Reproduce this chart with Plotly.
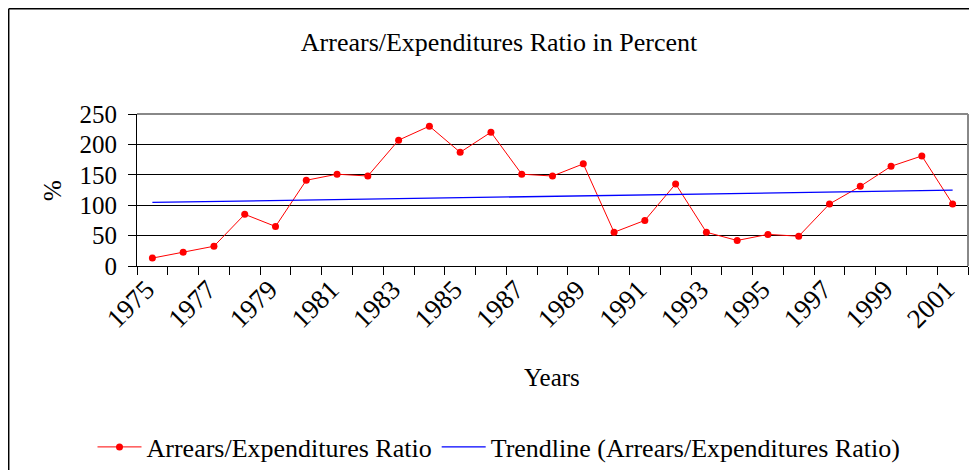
import plotly.graph_objects as go

years = list(range(1975, 2002))
ratio = [13, 22.5, 32.5, 85, 65, 141, 151, 148, 207, 230, 187, 220, 151,
         148, 168, 55.5, 75, 135, 55.5, 42, 52, 49, 102, 131, 164, 181, 102]
trend_years = [1975, 2001]
trend_values = [104.5, 124.7]
tick_years = [y for y in years if y % 2 == 1]
tick_labels = [str(y) for y in tick_years]
y_ticks = [0, 50, 100, 150, 200, 250]

FONT = "Liberation Serif"
OFF = 8  # page body margin offset
W, H = 977, 470
# screen-space plot box: x 137..968, y 114..266
L, T = 137 - OFF, 114 - OFF
R = W - (968 - OFF)
B = H - (266 - OFF)
PW, PH = W - L - R, H - T - B

def px_x(sx):
    return (sx - OFF - L) / PW

def px_y(sy):
    return (H - B - (sy - OFF)) / PH

fig = go.Figure()
fig.add_trace(go.Scatter(
    x=years, y=ratio, mode="lines+markers", name="Arrears/Expenditures Ratio",
    line=dict(color="#FF0000", width=1), marker=dict(color="#FF0000", size=7),
))
fig.add_trace(go.Scatter(
    x=trend_years, y=trend_values, mode="lines",
    name="Trendline (Arrears/Expenditures Ratio)",
    line=dict(color="#0000FF", width=1.3),
))

fig.update_layout(
    width=W, height=H,
    margin=dict(l=L, r=R, t=T, b=B, autoexpand=False),
    paper_bgcolor="white", plot_bgcolor="white",
    font=dict(family=FONT, color="black", size=24),
    title=dict(text="Arrears/Expenditures Ratio in Percent",
               x=(499 - OFF) / W, xref="container", xanchor="center",
               y=1 - (42 - OFF) / H, yref="container", yanchor="middle",
               font=dict(size=26, family=FONT, color="black")),
    showlegend=True,
    legend=dict(orientation="h", x=(499 - OFF) / W, xref="container", xanchor="center",
                y=1 - (447 - OFF) / H, yref="container", yanchor="middle",
                font=dict(size=26, family=FONT, color="black"),
                bgcolor="rgba(0,0,0,0)", itemwidth=44),
    xaxis=dict(range=[1974.5, 2001.5], tickmode="array", tickvals=tick_years,
               ticktext=tick_labels, tickangle=-45, ticks="", automargin=False,
               ticklabelshift=-6, ticklabelstandoff=-4,
               showgrid=False, zeroline=False,
               showline=True, linecolor="black", linewidth=1,
               tickfont=dict(size=27, family=FONT, color="black"),
               minor=dict(tick0=1974.5, dtick=1, ticks="outside", ticklen=8,
                          tickcolor="black", tickwidth=1, showgrid=False)),
    yaxis=dict(range=[0, 250], tickmode="array", tickvals=y_ticks,
               ticks="outside", ticklen=8, tickcolor="black", tickwidth=1,
               ticklabelstandoff=6, automargin=False,
               showgrid=True, gridcolor="black", gridwidth=1, zeroline=False,
               showline=True, linecolor="black", linewidth=1,
               tickfont=dict(size=25, family=FONT, color="black")),
    annotations=[
        dict(text="%", textangle=-90, x=px_x(52), y=px_y(191), xref="paper",
             yref="paper", showarrow=False, xanchor="center", yanchor="middle",
             font=dict(size=25, family=FONT, color="black")),
        dict(text="Years", x=px_x(552), y=px_y(377), xref="paper", yref="paper",
             showarrow=False, xanchor="center", yanchor="middle",
             font=dict(size=25, family=FONT, color="black")),
    ],
    shapes=[
        dict(type="line", xref="paper", yref="paper", x0=0, x1=1, y0=1, y1=1,
             line=dict(color="#888888", width=2)),
        dict(type="line", xref="paper", yref="paper", x0=1, x1=1, y0=0, y1=1,
             line=dict(color="#888888", width=2)),
        dict(type="line", xref="paper", yref="paper", x0=px_x(8.7), x1=2,
             y0=px_y(8.7), y1=px_y(8.7), line=dict(color="black", width=1.5)),
        dict(type="line", xref="paper", yref="paper", x0=px_x(8.7), x1=px_x(8.7),
             y0=px_y(8.7), y1=-3, line=dict(color="black", width=1.5)),
    ],
)

fig.write_html("out.html")
